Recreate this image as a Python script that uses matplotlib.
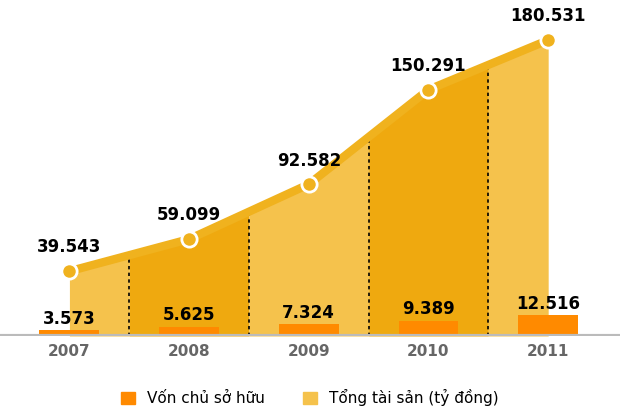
import numpy as np
import matplotlib.pyplot as plt

years = ["2007", "2008", "2009", "2010", "2011"]
tong_tai_san = [39.543, 59.099, 92.582, 150.291, 180.531]
von_chu_so_huu = [3.573, 5.625, 7.324, 9.389, 12.516]

light = "#F5C24C"
dark = "#EFA90F"
line_col = "#F0B21E"
bar_col = "#FF8A00"

fig = plt.figure(figsize=(6.2, 4.2), dpi=100)
ax = fig.add_axes([0.0, 0.2, 1.0, 0.8])
x = np.arange(len(years))
y = np.array(tong_tai_san)

# alternating fill, split at the midpoints between years
xs = np.linspace(0, len(years) - 1, 801)
ys = np.interp(xs, x, y)
edges = [0, 0.5, 1.5, 2.5, 3.5, 4]
for i in range(len(edges) - 1):
    m = (xs >= edges[i]) & (xs <= edges[i + 1])
    ax.fill_between(xs[m], 0, ys[m], color=light if i % 2 == 0 else dark, lw=0)
for e in edges[1:-1]:
    ax.plot([e, e], [0, np.interp(e, x, y)], color="black", ls=(0, (2, 2)), lw=1.2)

ax.plot(x, y, color=line_col, lw=6, zorder=3, solid_capstyle="round")
ax.plot(x, y, "o", ms=11, mfc=line_col, mec="white", mew=2, zorder=4)

ax.bar(x, von_chu_so_huu, width=0.5, color=bar_col, zorder=5)

for xi, v in zip(x, tong_tai_san):
    ax.text(xi, v + 9, f"{v:.3f}", ha="center", va="bottom", fontsize=12, fontweight="bold")
for xi, v in zip(x, von_chu_so_huu):
    ax.text(xi, v + 1.5, f"{v:.3f}", ha="center", va="bottom", fontsize=12, fontweight="bold", zorder=6)

ax.axhline(0, color="#BBBBBB", lw=3, zorder=6)
ax.set_xlim(-0.58, 4.6)
ax.set_ylim(0, 205)
ax.set_xticks(x)
ax.set_xticklabels(years, fontsize=11, fontweight="bold", color="#666666")
ax.tick_params(length=0, pad=6)
ax.set_yticks([])
for s in ax.spines.values():
    s.set_visible(False)

h1 = plt.Rectangle((0, 0), 1, 1, color=bar_col)
h2 = plt.Rectangle((0, 0), 1, 1, color=light)
fig.legend([h1, h2], ["Vốn chủ sở hữu", "Tổng tài sản (tỷ đồng)"], loc="lower center",
           bbox_to_anchor=(0.5, 0.0), ncol=2, frameon=False, fontsize=11,
           handlelength=0.9, handleheight=0.9, columnspacing=2.5)

fig.savefig("out.png")
